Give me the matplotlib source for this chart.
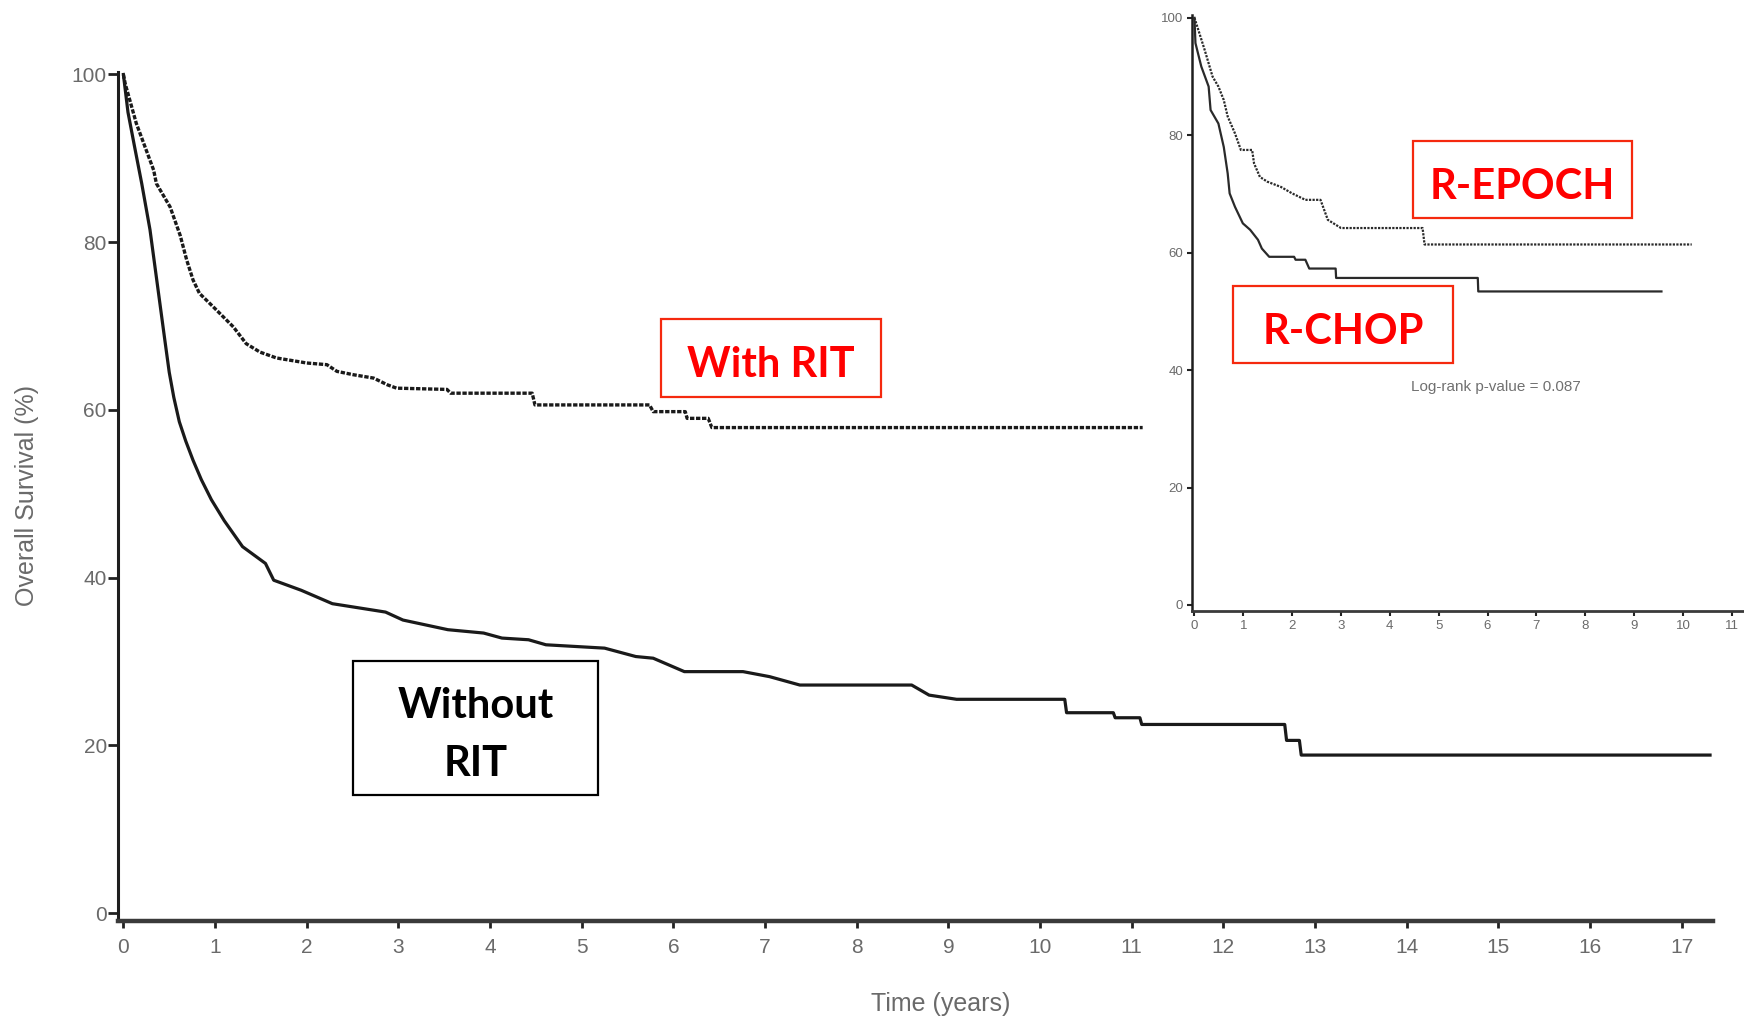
import matplotlib.pyplot as plt
from matplotlib.patches import Rectangle

# main panel: overall survival (%) vs time (years)
without_t = [0, 0.05, 0.12, 0.20, 0.29, 0.37, 0.45, 0.50, 0.55, 0.61, 0.68, 0.76, 0.85,
             0.96, 1.10, 1.30, 1.55, 1.64, 1.94, 2.28, 2.86, 3.05, 3.54, 3.93, 4.13, 4.42,
             4.61, 5.25, 5.59, 5.78, 6.12, 6.76, 7.05, 7.38, 8.60, 8.79, 9.09, 10.27, 10.29,
             10.80, 10.82, 11.09, 11.11, 12.67, 12.69, 12.83, 12.85, 17.31]
without_s = [100, 95.5, 91.5, 87.0, 81.5, 75.0, 68.5, 64.5, 61.5, 58.6, 56.3, 54.0, 51.7,
             49.3, 46.8, 43.7, 41.7, 39.7, 38.5, 36.9, 35.9, 34.95, 33.8, 33.4, 32.8, 32.6,
             32.0, 31.6, 30.6, 30.4, 28.8, 28.8, 28.2, 27.2, 27.2, 26.0, 25.5, 25.5, 23.9,
             23.9, 23.3, 23.3, 22.5, 22.5, 20.6, 20.6, 18.85, 18.85]

with_t = [0, 0.02, 0.14, 0.33, 0.36, 0.51, 0.62, 0.69, 0.76, 0.83, 0.98, 1.09, 1.20, 1.34,
          1.49, 1.67, 2.00, 2.22, 2.33, 2.51, 2.73, 2.88, 2.98, 3.53, 3.57, 4.46, 4.49,
          5.74, 5.78, 6.13, 6.15, 6.38, 6.42, 11.12]
with_s = [100, 98.9, 94.2, 88.6, 87.0, 84.2, 80.8, 77.9, 75.5, 73.9, 72.3, 71.1, 69.9, 67.9,
          66.9, 66.2, 65.6, 65.4, 64.6, 64.2, 63.8, 63.0, 62.6, 62.45, 62.0, 62.0, 60.6,
          60.6, 59.8, 59.8, 59.0, 59.0, 57.9, 57.9]

# inset: R-CHOP vs R-EPOCH
rchop_t = [0, 0.02, 0.14, 0.29, 0.33, 0.49, 0.60, 0.68, 0.72, 0.83, 0.99, 1.14, 1.30, 1.38,
           1.53, 2.04, 2.07, 2.27, 2.35, 2.89, 2.90, 5.80, 5.81, 9.56]
rchop_s = [100, 95.7, 91.7, 88.3, 84.3, 82.0, 78.0, 73.5, 70.1, 67.8, 65.0, 63.9, 62.2, 60.7,
           59.3, 59.3, 58.8, 58.8, 57.3, 57.3, 55.7, 55.7, 53.4, 53.4]
repoch_t = [0, 0.10, 0.21, 0.37, 0.49, 0.60, 0.68, 0.83, 0.95, 1.18, 1.22, 1.34, 1.49, 1.77,
            2.00, 2.27, 2.58, 2.73, 3.00, 4.67, 4.71, 10.18]
repoch_s = [100, 97.4, 94.5, 90.0, 88.3, 86.0, 83.2, 80.3, 77.5, 77.5, 75.2, 72.9, 72.1, 71.2,
            70.1, 69.0, 69.0, 65.6, 64.2, 64.2, 61.4, 61.4]

main_xticks = list(range(0, 18))
main_yticks = [0, 20, 40, 60, 80, 100]
inset_xticks = list(range(0, 12))
inset_yticks = [0, 20, 40, 60, 80, 100]

W, H = 1744, 1021
fig = plt.figure(figsize=(W / 100, H / 100), dpi=100)
plt.rcParams['font.family'] = ['Liberation Sans', 'DejaVu Sans']

tick_grey = '#6a6a6a'

# ---- main axes
ax = fig.add_axes([0.0676, 0.0979, 0.9145, 0.8316])
ax.plot(without_t, without_s, color='#1a1a1a', lw=2.3)
ax.plot(with_t, with_s, color='#1a1a1a', lw=2.4, linestyle=(0, (1.3, 0.5)))
ax.set_xlim(-0.06, 17.34)
ax.set_ylim(-0.94, 100.3)
ax.set_xticks(main_xticks)
ax.set_yticks(main_yticks)
for s in ['top', 'right']:
    ax.spines[s].set_visible(False)
ax.spines['left'].set_linewidth(2.2)
ax.spines['left'].set_color('#1e1e1e')
ax.spines['bottom'].set_linewidth(3.2)
ax.spines['bottom'].set_color('#3a3a3a')
ax.tick_params(axis='x', length=5, width=2, color='#222', pad=7,
               labelsize=15, labelcolor=tick_grey)
ax.tick_params(axis='y', length=7, width=2, color='#222', pad=1,
               labelsize=15, labelcolor=tick_grey)
ax.set_facecolor('none')

fig.text(27 / W, 1 - 496 / H, 'Overall Survival (%)', rotation=90, ha='center',
         va='center', fontsize=18, color=tick_grey)
fig.text(941 / W, 1 - 1004 / H, 'Time (years)', ha='center', va='center',
         fontsize=18, color=tick_grey)

# ---- inset
ins = fig.add_axes([0.6835, 0.402, 0.3165, 0.5834])
ins.plot(rchop_t, rchop_s, color='#2a2a2a', lw=1.6)
ins.plot(repoch_t, repoch_s, color='#2a2a2a', lw=1.6, linestyle=(0, (1, 0.6)))
ins.set_xlim(-0.05, 11.25)
ins.set_ylim(-0.95, 100.5)
ins.set_xticks(inset_xticks)
ins.set_yticks(inset_yticks)
for s in ['top', 'right']:
    ins.spines[s].set_visible(False)
ins.spines['left'].set_linewidth(1.8)
ins.spines['left'].set_color('#1e1e1e')
ins.spines['bottom'].set_linewidth(2.0)
ins.spines['bottom'].set_color('#3a3a3a')
ins.tick_params(axis='both', length=3.5, width=1.5, color='#222', pad=3,
                labelsize=9.5, labelcolor=tick_grey)
ins.text(1496 / W, 1 - 387 / H, 'Log-rank p-value = 0.087', transform=fig.transFigure,
         ha='center', va='center', fontsize=11, color='#707070')

# ---- annotation boxes (pixel coords of the reference)
def label_box(x0, y0, x1, y1, lines, color, edge):
    fig.patches.append(Rectangle((x0 / W, 1 - y1 / H), (x1 - x0) / W, (y1 - y0) / H,
                                 transform=fig.transFigure, fill=True, facecolor='white',
                                 edgecolor=edge, lw=1.6, zorder=5))
    cx = (x0 + x1) / 2
    for ly, txt in lines:
        fig.text(cx / W, 1 - ly / H, txt, ha='center', va='center', fontsize=30,
                 fontweight='bold', family=['Lato', 'DejaVu Sans'], color=color, zorder=6)

label_box(660.7, 319.3, 880.7, 396.7, [(365, 'With RIT')], '#ff0000', '#f5290e')
label_box(352.6, 660.7, 598.4, 795.2, [(706.5, 'Without'), (764, 'RIT')], 'black', 'black')
label_box(1412.5, 141.2, 1631.6, 218.0, [(187, 'R-EPOCH')], '#ff0000', '#f5290e')
label_box(1233.4, 285.8, 1452.5, 362.6, [(331.5, 'R-CHOP')], '#ff0000', '#f5290e')

fig.savefig('out.png', dpi=100)
